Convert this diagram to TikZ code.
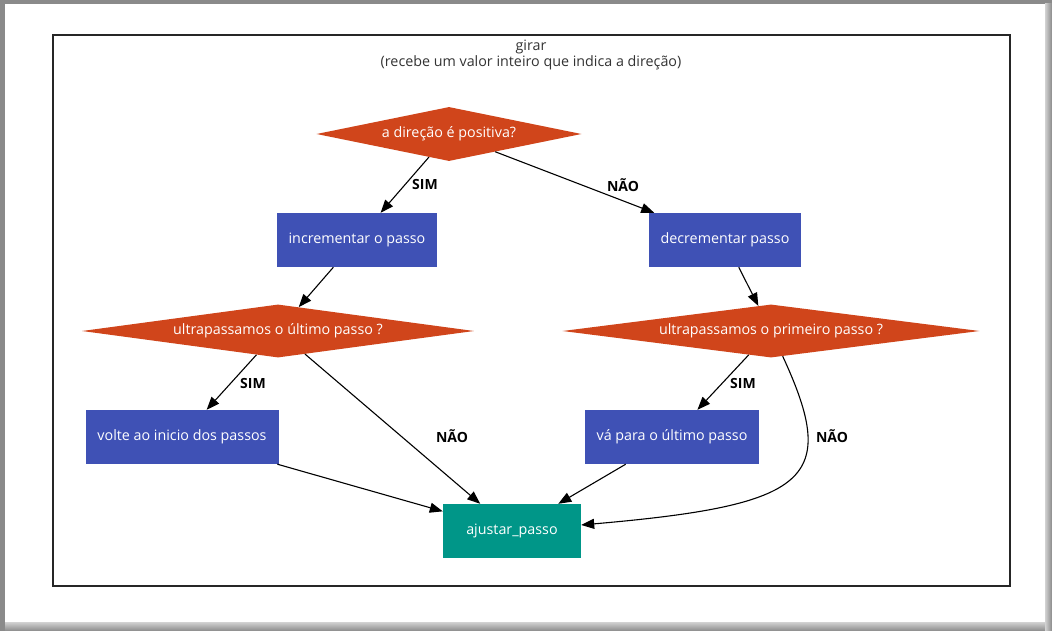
\documentclass[tikz,border=0pt]{standalone}
\usepackage{fontspec}
\setmainfont{Open Sans}
\usepackage{xcolor}
\usepackage{tikz}
\usetikzlibrary{shapes.geometric,arrows.meta}

\definecolor{laranja}{HTML}{D0451B}
\definecolor{azul}{HTML}{3F51B5}
\definecolor{verde}{HTML}{009688}
\definecolor{moldura}{HTML}{8A8A8A}
\definecolor{sombra}{HTML}{D2D2D2}

\begin{document}
\begin{tikzpicture}[
                x=1pt,y=-1pt,
                decision/.style={diamond,fill=laranja,text=white,inner sep=0pt,font=\fontsize{14.3}{17}\selectfont},
                action/.style={rectangle,fill=azul,text=white,minimum height=54pt,font=\fontsize{14.3}{17}\selectfont},
                final/.style={action,fill=verde},
                connection/.style={-{Triangle[length=13pt,width=10pt]},line width=1.1pt},
                answer/.style={font=\fontsize{14}{17}\selectfont\bfseries},
            ]

            \fill[moldura] (0,0) rectangle (1052,631);
            \shade[top color=sombra,bottom color=moldura] (5,622) rectangle (1052,631);
            \shade[left color=sombra,right color=moldura] (1045,4) rectangle (1052,631);
            \fill[white] (5,4) rectangle (1045,622);
            \draw[line width=1.3pt,black!85] (53,35) rectangle (1010,586);

            \node[align=center,text=black!80,font=\fontsize{14.3}{16}\selectfont] (titulo) at (531,55) {girar\\(recebe um valor inteiro que indica a direção)};

            \node[decision,aspect=4.9,minimum width=265pt,minimum height=54pt] (positiva) at (449,134) {a direção é positiva?};

            \node[action,minimum width=160pt] (incrementar) at (357,240) {incrementar o passo};
            \node[action,minimum width=152pt] (decrementar) at (725,240) {decrementar passo};

            \node[decision,aspect=7.4,minimum width=392pt,minimum height=53pt] (ultimo) at (278,331) {ultrapassamos o último passo ?};
            \node[decision,aspect=7.9,minimum width=417pt,minimum height=53pt] (primeiro) at (771,331) {ultrapassamos o primeiro passo ?};

            \node[action,minimum width=193pt] (volte) at (182,437) {volte ao inicio dos passos};
            \node[action,minimum width=174pt] (va) at (672,437) {vá para o último passo};

            \node[final,minimum width=138pt] (ajustar) at (512,531) {ajustar\_passo};

            \foreach \a/\b in {positiva/incrementar,positiva/decrementar,incrementar/ultimo,decrementar/primeiro,ultimo/volte,ultimo/ajustar,primeiro/va,volte/ajustar,va/ajustar} {
                \draw[connection] (\a) -- (\b);
            }
            \draw[connection] (primeiro) .. controls (840,480) and (810,505) .. (ajustar);

            \node[answer] (simA) at (425,185) {SIM};
            \node[answer] (naoA) at (623,185) {NÃO};
            \node[answer] (simB) at (253,383) {SIM};
            \node[answer] (naoB) at (452,436) {NÃO};
            \node[answer] (simC) at (743,383) {SIM};
            \node[answer] (naoC) at (832,436) {NÃO};
        \end{tikzpicture}
\end{document}
